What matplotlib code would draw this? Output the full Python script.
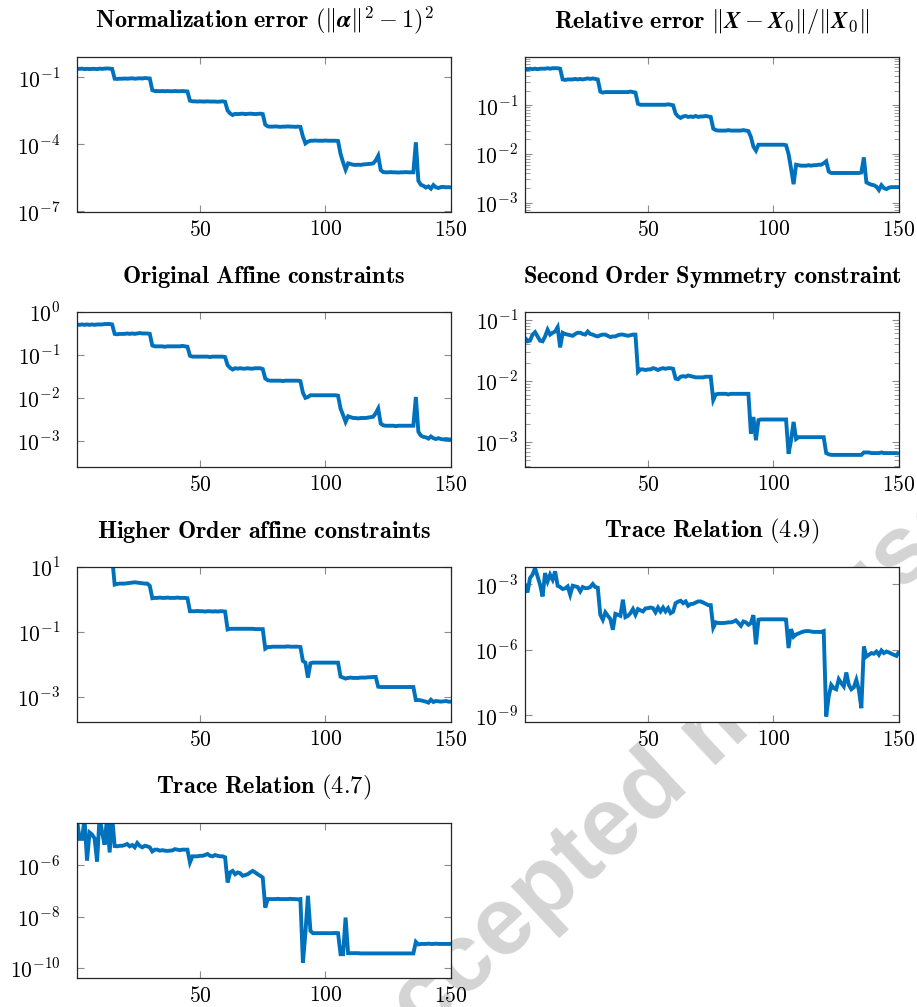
import numpy as np
import matplotlib
matplotlib.use("Agg")
import matplotlib.pyplot as plt
from matplotlib.ticker import FixedLocator, FuncFormatter, LogLocator, NullLocator, NullFormatter

plt.rcParams['mathtext.fontset'] = 'cm'
plt.rcParams['font.family'] = ['cmr10', 'DejaVu Serif']
plt.rcParams['axes.unicode_minus'] = False

# iteration index
iterations = np.arange(1, 151)

# log10 of the plotted quantities (15 values per line)
normalization_log10 = [
    -0.62, -0.63, -0.62, -0.64, -0.63, -0.64, -0.63, -0.63, -0.64, -0.62, -0.63, -0.62, -0.61, -0.62, -0.63,
    -1.07, -1.08, -1.07, -1.07, -1.06, -1.07, -1.06, -1.05, -1.07, -1.06, -1.05, -1.06, -1.04, -1.05, -1.06,
    -1.58, -1.62, -1.62, -1.63, -1.62, -1.63, -1.62, -1.63, -1.63, -1.62, -1.63, -1.63, -1.62, -1.63, -1.64,
    -2.05, -2.08, -2.08, -2.09, -2.08, -2.09, -2.09, -2.08, -2.09, -2.09, -2.09, -2.10, -2.09, -2.08, -2.10,
    -2.49, -2.62, -2.69, -2.64, -2.65, -2.64, -2.63, -2.65, -2.64, -2.63, -2.64, -2.65, -2.64, -2.63, -2.65,
    -3.12, -3.20, -3.21, -3.21, -3.20, -3.21, -3.22, -3.21, -3.21, -3.20, -3.21, -3.21, -3.22, -3.21, -3.22,
    -3.65, -3.96, -3.88, -3.84, -3.84, -3.83, -3.84, -3.84, -3.84, -3.83, -3.84, -3.84, -3.84, -3.84, -3.85,
    -4.43, -4.80, -5.13, -4.85, -4.88, -4.91, -4.92, -4.91, -4.92, -4.90, -4.89, -4.88, -4.87, -4.85, -4.72,
    -4.51, -5.15, -5.24, -5.25, -5.25, -5.24, -5.25, -5.25, -5.26, -5.25, -5.25, -5.24, -5.25, -5.25, -5.25,
    -3.91, -5.63, -5.81, -5.85, -5.93, -5.88, -5.98, -5.82, -5.92, -5.95, -5.91, -5.90, -5.92, -5.91, -5.93,
]

relative_log10 = [
    -0.25, -0.26, -0.25, -0.26, -0.25, -0.26, -0.25, -0.25, -0.25, -0.24, -0.25, -0.24, -0.24, -0.24, -0.25,
    -0.47, -0.48, -0.47, -0.47, -0.47, -0.46, -0.47, -0.46, -0.47, -0.46, -0.45, -0.46, -0.45, -0.46, -0.47,
    -0.72, -0.74, -0.73, -0.73, -0.73, -0.73, -0.73, -0.73, -0.73, -0.73, -0.73, -0.73, -0.72, -0.73, -0.74,
    -0.97, -0.99, -0.99, -0.99, -0.99, -0.99, -0.99, -0.99, -0.99, -0.99, -0.99, -0.99, -0.98, -0.99, -1.00,
    -1.17, -1.23, -1.26, -1.23, -1.22, -1.24, -1.23, -1.24, -1.22, -1.24, -1.23, -1.23, -1.22, -1.23, -1.24,
    -1.48, -1.51, -1.52, -1.52, -1.52, -1.52, -1.51, -1.52, -1.52, -1.52, -1.52, -1.52, -1.51, -1.52, -1.53,
    -1.65, -1.85, -1.93, -1.81, -1.81, -1.81, -1.81, -1.81, -1.81, -1.81, -1.81, -1.81, -1.81, -1.81, -1.82,
    -2.00, -2.30, -2.62, -2.22, -2.23, -2.24, -2.24, -2.24, -2.23, -2.24, -2.23, -2.23, -2.22, -2.22, -2.19,
    -2.15, -2.36, -2.39, -2.39, -2.39, -2.39, -2.39, -2.39, -2.39, -2.39, -2.39, -2.39, -2.39, -2.39, -2.38,
    -2.07, -2.58, -2.61, -2.63, -2.64, -2.67, -2.74, -2.64, -2.70, -2.72, -2.69, -2.68, -2.68, -2.68, -2.68,
]

affine_log10 = [
    -0.29, -0.30, -0.29, -0.30, -0.29, -0.30, -0.29, -0.30, -0.29, -0.29, -0.29, -0.28, -0.28, -0.28, -0.29,
    -0.51, -0.52, -0.51, -0.51, -0.51, -0.50, -0.51, -0.50, -0.51, -0.50, -0.49, -0.50, -0.50, -0.50, -0.51,
    -0.78, -0.80, -0.80, -0.80, -0.80, -0.81, -0.80, -0.80, -0.80, -0.80, -0.80, -0.80, -0.79, -0.80, -0.81,
    -1.02, -1.04, -1.04, -1.04, -1.04, -1.04, -1.04, -1.04, -1.05, -1.04, -1.04, -1.04, -1.04, -1.04, -1.05,
    -1.24, -1.30, -1.34, -1.31, -1.32, -1.31, -1.32, -1.32, -1.31, -1.32, -1.32, -1.31, -1.31, -1.31, -1.33,
    -1.55, -1.59, -1.60, -1.60, -1.60, -1.60, -1.60, -1.61, -1.60, -1.60, -1.60, -1.60, -1.60, -1.60, -1.61,
    -1.88, -2.00, -1.98, -1.94, -1.94, -1.94, -1.94, -1.94, -1.94, -1.94, -1.94, -1.94, -1.94, -1.94, -1.95,
    -2.25, -2.40, -2.56, -2.43, -2.45, -2.47, -2.47, -2.48, -2.47, -2.47, -2.47, -2.46, -2.45, -2.44, -2.36,
    -2.25, -2.60, -2.64, -2.65, -2.65, -2.65, -2.65, -2.66, -2.65, -2.65, -2.65, -2.65, -2.65, -2.65, -2.65,
    -1.98, -2.79, -2.88, -2.91, -2.92, -2.95, -2.90, -2.94, -2.96, -2.94, -2.96, -2.97, -2.96, -2.97, -2.97,
]

symmetry_log10 = [
    -1.29, -1.35, -1.34, -1.24, -1.20, -1.27, -1.34, -1.35, -1.27, -1.16, -1.24, -1.21, -1.19, -1.12, -1.45,
    -1.21, -1.23, -1.24, -1.25, -1.26, -1.23, -1.21, -1.21, -1.23, -1.24, -1.19, -1.23, -1.24, -1.26, -1.27,
    -1.25, -1.24, -1.24, -1.26, -1.28, -1.27, -1.27, -1.25, -1.24, -1.24, -1.25, -1.26, -1.25, -1.24, -1.24,
    -1.85, -1.81, -1.81, -1.82, -1.81, -1.81, -1.79, -1.80, -1.82, -1.80, -1.79, -1.80, -1.79, -1.79, -1.80,
    -1.96, -1.97, -1.93, -1.92, -1.93, -1.91, -1.92, -1.93, -1.94, -1.94, -1.94, -1.94, -1.93, -1.93, -1.93,
    -2.31, -2.22, -2.21, -2.21, -2.21, -2.21, -2.22, -2.21, -2.21, -2.21, -2.21, -2.21, -2.21, -2.21, -2.21,
    -2.86, -2.59, -2.97, -2.64, -2.63, -2.63, -2.63, -2.63, -2.63, -2.63, -2.63, -2.63, -2.63, -2.63, -2.63,
    -3.19, -2.97, -2.67, -2.95, -2.92, -2.92, -2.92, -2.92, -2.92, -2.92, -2.92, -2.92, -2.92, -2.92, -2.92,
    -3.18, -3.20, -3.21, -3.21, -3.21, -3.21, -3.21, -3.21, -3.21, -3.21, -3.21, -3.21, -3.21, -3.21, -3.21,
    -3.17, -3.17, -3.17, -3.18, -3.18, -3.18, -3.18, -3.17, -3.18, -3.18, -3.18, -3.18, -3.18, -3.18, -3.19,
]

higher_order_log10 = [
    1.30, 1.30, 1.30, 1.30, 1.30, 1.30, 1.30, 1.30, 1.30, 1.30, 1.30, 1.30, 1.30, 1.30, 1.30,
    0.46, 0.48, 0.49, 0.49, 0.49, 0.50, 0.51, 0.52, 0.53, 0.52, 0.51, 0.50, 0.49, 0.49, 0.42,
    0.04, 0.05, 0.05, 0.06, 0.05, 0.05, 0.06, 0.05, 0.05, 0.05, 0.06, 0.05, 0.05, 0.05, 0.04,
    -0.36, -0.36, -0.36, -0.35, -0.36, -0.36, -0.37, -0.36, -0.36, -0.37, -0.36, -0.37, -0.36, -0.36, -0.37,
    -0.92, -0.90, -0.90, -0.90, -0.90, -0.90, -0.90, -0.90, -0.90, -0.90, -0.90, -0.91, -0.91, -0.91, -0.91,
    -1.51, -1.46, -1.46, -1.45, -1.45, -1.45, -1.45, -1.45, -1.45, -1.44, -1.45, -1.45, -1.45, -1.45, -1.46,
    -1.89, -1.94, -2.40, -1.96, -1.94, -1.94, -1.94, -1.94, -1.94, -1.94, -1.94, -1.94, -1.94, -1.94, -1.94,
    -2.37, -2.40, -2.43, -2.41, -2.40, -2.41, -2.41, -2.41, -2.40, -2.40, -2.40, -2.39, -2.39, -2.38, -2.38,
    -2.68, -2.69, -2.69, -2.69, -2.69, -2.69, -2.69, -2.69, -2.69, -2.69, -2.69, -2.69, -2.69, -2.69, -2.69,
    -3.09, -3.09, -3.10, -3.12, -3.14, -3.17, -3.08, -3.15, -3.12, -3.13, -3.14, -3.13, -3.12, -3.14, -3.14,
]

trace49_log10 = [
    -2.97, -3.37, -2.71, -2.55, -2.25, -2.63, -3.01, -3.55, -2.48, -2.86, -2.55, -2.78, -2.40, -3.06, -3.12,
    -3.21, -3.18, -3.09, -3.47, -3.06, -3.09, -3.12, -3.32, -3.12, -3.17, -3.17, -3.12, -2.98, -3.12, -3.15,
    -4.39, -4.62, -4.28, -4.44, -4.59, -5.08, -4.35, -4.39, -4.44, -3.70, -4.50, -4.44, -4.32, -4.13, -4.39,
    -4.13, -4.19, -4.24, -4.10, -4.09, -4.06, -4.09, -4.28, -4.06, -4.24, -4.06, -4.24, -4.09, -4.32, -4.25,
    -3.86, -3.79, -3.75, -3.86, -3.78, -3.98, -3.90, -3.89, -3.83, -3.78, -3.78, -3.83, -3.89, -3.95, -3.95,
    -4.98, -4.74, -4.77, -4.77, -4.77, -4.76, -4.74, -4.74, -4.71, -4.65, -4.77, -4.90, -4.70, -4.74, -4.85,
    -4.77, -4.41, -5.75, -4.62, -4.60, -4.60, -4.60, -4.60, -4.60, -4.60, -4.60, -4.60, -4.60, -4.60, -4.61,
    -5.92, -5.05, -5.40, -5.30, -5.25, -5.20, -5.16, -5.14, -5.14, -5.16, -5.18, -5.18, -5.18, -5.18, -5.14,
    -9.06, -8.14, -7.61, -7.76, -7.81, -7.35, -7.53, -7.68, -7.04, -7.61, -7.81, -7.72, -7.38, -7.84, -8.68,
    -5.85, -6.31, -6.23, -6.15, -6.18, -6.08, -6.23, -6.03, -6.15, -6.08, -6.12, -6.18, -6.23, -6.28, -6.08,
]

trace47_log10 = [
    -4.20, -4.97, -4.97, -4.20, -5.82, -4.72, -4.80, -4.95, -5.85, -4.10, -4.70, -5.20, -4.10, -5.50, -4.10,
    -5.25, -5.26, -5.24, -5.24, -5.21, -5.17, -5.26, -5.21, -5.30, -5.13, -5.24, -5.30, -5.24, -5.26, -5.30,
    -5.46, -5.39, -5.39, -5.43, -5.41, -5.43, -5.44, -5.43, -5.42, -5.37, -5.39, -5.41, -5.39, -5.39, -5.39,
    -5.89, -5.65, -5.65, -5.65, -5.63, -5.63, -5.60, -5.56, -5.63, -5.65, -5.60, -5.63, -5.65, -5.65, -5.69,
    -6.67, -6.28, -6.22, -6.35, -6.28, -6.31, -6.41, -6.38, -6.35, -6.28, -6.22, -6.28, -6.35, -6.41, -6.48,
    -7.65, -7.32, -7.32, -7.32, -7.32, -7.31, -7.32, -7.32, -7.32, -7.32, -7.31, -7.32, -7.32, -7.33, -7.32,
    -9.80, -8.63, -7.19, -8.56, -8.65, -8.65, -8.65, -8.65, -8.65, -8.65, -8.65, -8.65, -8.65, -8.64, -8.65,
    -9.47, -9.47, -8.04, -9.43, -9.43, -9.43, -9.43, -9.43, -9.44, -9.44, -9.44, -9.44, -9.44, -9.44, -9.44,
    -9.44, -9.44, -9.44, -9.44, -9.44, -9.44, -9.44, -9.44, -9.44, -9.44, -9.44, -9.44, -9.44, -9.44, -9.44,
    -8.99, -9.09, -9.07, -9.07, -9.07, -9.06, -9.07, -9.07, -9.06, -9.07, -9.07, -9.07, -9.07, -9.07, -9.07,
]

titles = [
    r'$\mathbf{Normalization\ error}\ (\|\boldsymbol{\alpha}\|^2-1)^2$',
    r'$\mathbf{Relative\ error}\ \|\boldsymbol{X}-\boldsymbol{X}_0\|/\|\boldsymbol{X}_0\|$',
    r'$\mathbf{Original\ Affine\ constraints}$',
    r'$\mathbf{Second\ Order\ Symmetry\ constraint}$',
    r'$\mathbf{Higher\ Order\ affine\ constraints}$',
    r'$\mathbf{Trace\ Relation}\ (4.9)$',
    r'$\mathbf{Trace\ Relation}\ (4.7)$',
]
series = [normalization_log10, relative_log10, affine_log10, symmetry_log10,
          higher_order_log10, trace49_log10, trace47_log10]
y_major_exps = [[-1, -4, -7], [-1, -2, -3], [0, -1, -2, -3], [-1, -2, -3],
                [1, -1, -3], [-3, -6, -9], [-6, -8, -10]]
y_limits_exp = [(-7.0, -0.1), (-3.18, -0.01), (-3.6, 0.0), (-3.40, -0.87),
                (-3.75, 1.0), (-9.29, -2.2), (-10.38, -4.35)]
with_minor = [False, True, True, True, False, False, False]
x_ticks = [50, 100, 150]
watermark = 'Accepted manuscript'

W, H = 917, 1007
fig = plt.figure(figsize=(W / 100, H / 100), dpi=100)
fig.patch.set_facecolor('white')

col_left = [77, 525]
ax_w = 374
row_top = [57, 312, 567, 823]
ax_h = 154.5

LINE_COLOR = '#0072BD'

for k in range(7):
    r, c = divmod(k, 2)
    x0 = col_left[c]
    y0 = row_top[r]
    ax = fig.add_axes([x0 / W, 1 - (y0 + ax_h) / H, ax_w / W, ax_h / H])
    ax.set_facecolor('white')
    vals = 10.0 ** np.array(series[k])
    ax.plot(iterations, vals, color=LINE_COLOR, lw=2.8, solid_joinstyle='miter',
            solid_capstyle='butt')
    ax.set_yscale('log')
    lo, hi = y_limits_exp[k]
    ax.set_ylim(10 ** lo, 10 ** hi)
    ax.set_xlim(1, 150)
    ax.yaxis.set_major_locator(FixedLocator([10.0 ** e for e in y_major_exps[k]]))
    ax.yaxis.set_major_formatter(FuncFormatter(lambda v, p: r'$10^{%d}$' % int(round(np.log10(v)))))
    if with_minor[k]:
        ax.yaxis.set_minor_locator(LogLocator(base=10, subs=np.arange(2, 10)))
    else:
        ax.yaxis.set_minor_locator(NullLocator())
    ax.yaxis.set_minor_formatter(NullFormatter())
    ax.xaxis.set_major_locator(FixedLocator(x_ticks))
    ax.xaxis.set_major_formatter(FuncFormatter(lambda v, p: r'$%d$' % int(v)))
    ax.xaxis.set_minor_locator(NullLocator())
    ypad = 12 if c == 0 else 5
    ax.tick_params(axis='both', which='both', direction='in', top=True, right=True,
                   color='#8c8c8c', labelcolor='black', labelsize=15.5)
    ax.tick_params(axis='both', which='major', length=5, width=0.8)
    ax.tick_params(axis='both', which='minor', length=3.5, width=0.6)
    ax.tick_params(axis='y', which='major', pad=ypad)
    ax.tick_params(axis='x', which='major', pad=6)
    for s in ax.spines.values():
        s.set_color('#262626')
        s.set_linewidth(0.9)
    ax.set_title(titles[k], fontsize=17.5, pad=21)

fig.text(716 / W, 1 - 731 / H, watermark, rotation=43, rotation_mode='anchor',
         ha='center', va='center', fontsize=70, fontweight='bold', family='Liberation Sans',
         color='#d4d4d4', zorder=-1)

fig.savefig('out.png', dpi=100, facecolor='white')
